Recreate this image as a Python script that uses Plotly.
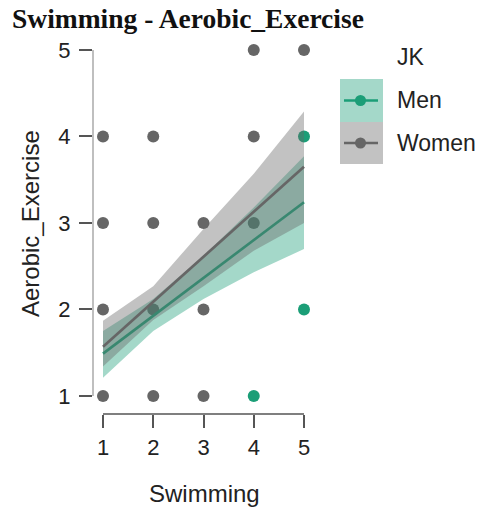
import plotly.graph_objects as go

# ---- data ----
swim_women = [1, 1, 1, 1, 2, 2, 2, 2, 3, 3, 3, 4, 4, 4, 5]
aer_women = [1, 2, 3, 4, 1, 2, 3, 4, 1, 2, 3, 3, 4, 5, 5]
swim_men = [4, 5, 5]
aer_men = [1, 2, 4]

x_fit = [1, 2, 3, 4, 5]
women_fit = [1.57, 2.09, 2.61, 3.13, 3.65]
women_lo = [1.34, 1.88, 2.27, 2.68, 3.00]
women_hi = [1.87, 2.27, 2.93, 3.57, 4.29]
men_fit = [1.49, 1.93, 2.37, 2.80, 3.24]
men_lo = [1.21, 1.75, 2.12, 2.43, 2.70]
men_hi = [1.75, 2.12, 2.62, 3.18, 3.77]

tick_vals = [1, 2, 3, 4, 5]
tick_text = ["1", "2", "3", "4", "5"]

GREEN = "#1b9e77"
GRAY = "#666666"
GREEN_FILL = "rgba(27,158,119,0.4)"
GRAY_FILL = "rgba(102,102,102,0.4)"

W, H = 484, 508
L, R, T, B = 93, 314, 42, 414


def px(xp):
    return (xp - L) / (R - L)


def py(yp):
    return (B - yp) / (B - T)


fig = go.Figure()

fig.add_trace(go.Scatter(x=swim_women, y=aer_women, mode="markers",
                         marker=dict(size=12, color=GRAY), showlegend=False))
fig.add_trace(go.Scatter(x=swim_men, y=aer_men, mode="markers",
                         marker=dict(size=12, color=GREEN), showlegend=False))

fig.add_trace(go.Scatter(x=x_fit + x_fit[::-1], y=men_hi + men_lo[::-1],
                         fill="toself", fillcolor=GREEN_FILL, mode="lines",
                         line=dict(width=0), showlegend=False, hoverinfo="skip"))
fig.add_trace(go.Scatter(x=x_fit, y=men_fit, mode="lines",
                         line=dict(color=GREEN, width=2.7), showlegend=False))
fig.add_trace(go.Scatter(x=x_fit + x_fit[::-1], y=women_hi + women_lo[::-1],
                         fill="toself", fillcolor=GRAY_FILL, mode="lines",
                         line=dict(width=0), showlegend=False, hoverinfo="skip"))
fig.add_trace(go.Scatter(x=x_fit, y=women_fit, mode="lines",
                         line=dict(color=GRAY, width=2.7), showlegend=False))

font = "Liberation Sans, Arial, sans-serif"

fig.update_layout(
    width=W, height=H,
    margin=dict(l=L, r=W - R, t=T, b=H - B, pad=0),
    plot_bgcolor="white", paper_bgcolor="white",
    font=dict(family=font, size=22, color="#222222"),
    xaxis=dict(range=[0.801, 5.199], tickvals=tick_vals, ticktext=tick_text,
               ticks="outside", ticklen=13, tickcolor="#555555", tickwidth=1.5,
               showgrid=False, zeroline=False, showline=False,
               ticklabelstandoff=1, tickfont=dict(size=22, color="#222222")),
    yaxis=dict(range=[0.792, 5.092], tickvals=tick_vals, ticktext=tick_text,
               ticks="outside", ticklen=13, tickcolor="#555555", tickwidth=1.5,
               showgrid=False, zeroline=False, showline=False,
               ticklabelstandoff=4, tickfont=dict(size=22, color="#222222")),
)

shapes = []
# axis lines
shapes.append(dict(type="line", xref="x", yref="paper", x0=1, x1=5, y0=0, y1=0,
                   line=dict(color="#555555", width=1.5)))
shapes.append(dict(type="line", xref="paper", yref="y", x0=0, x1=0, y0=1, y1=5,
                   line=dict(color="#aaaaaa", width=1.5)))
# legend swatches
shapes.append(dict(type="rect", xref="paper", yref="paper", x0=px(340), x1=px(383),
                   y0=py(122), y1=py(79), fillcolor="#a4d8c9", line=dict(width=0)))
shapes.append(dict(type="rect", xref="paper", yref="paper", x0=px(340), x1=px(383),
                   y0=py(164), y1=py(122), fillcolor="#c2c2c2", line=dict(width=0)))
shapes.append(dict(type="line", xref="paper", yref="paper", x0=px(344), x1=px(378),
                   y0=py(100.5), y1=py(100.5), line=dict(color=GREEN, width=2.5)))
shapes.append(dict(type="line", xref="paper", yref="paper", x0=px(344), x1=px(378),
                   y0=py(143), y1=py(143), line=dict(color=GRAY, width=2.5)))
shapes.append(dict(type="circle", xref="paper", yref="paper",
                   x0=px(355), x1=px(366), y0=py(106), y1=py(95),
                   fillcolor=GREEN, line=dict(width=0)))
shapes.append(dict(type="circle", xref="paper", yref="paper",
                   x0=px(355), x1=px(366), y0=py(148.5), y1=py(137.5),
                   fillcolor=GRAY, line=dict(width=0)))
fig.update_layout(shapes=shapes)

ann = []
ann.append(dict(text="<b>Swimming - Aerobic_Exercise</b>", xref="paper", yref="paper",
                x=px(10), y=py(18), xanchor="left", yanchor="middle", showarrow=False,
                font=dict(family="Liberation Serif, Times New Roman, serif", size=27.5,
                          color="#111111")))
ann.append(dict(text="Swimming", xref="paper", yref="paper", x=px(204), y=py(493),
                xanchor="center", yanchor="middle", showarrow=False,
                font=dict(size=24, color="#222222")))
ann.append(dict(text="Aerobic_Exercise", xref="paper", yref="paper", x=px(30), y=py(224),
                xanchor="center", yanchor="middle", showarrow=False, textangle=-90,
                font=dict(size=24, color="#222222")))
ann.append(dict(text="JK", xref="paper", yref="paper", x=px(395), y=py(57),
                xanchor="left", yanchor="middle", showarrow=False,
                font=dict(size=23, color="#222222")))
ann.append(dict(text="Men", xref="paper", yref="paper", x=px(395), y=py(100),
                xanchor="left", yanchor="middle", showarrow=False,
                font=dict(size=23, color="#222222")))
ann.append(dict(text="Women", xref="paper", yref="paper", x=px(395), y=py(143),
                xanchor="left", yanchor="middle", showarrow=False,
                font=dict(size=23, color="#222222")))
fig.update_layout(annotations=ann)

fig.write_html("out.html", config={"displayModeBar": False},
               post_script="document.body.style.margin='0';document.body.style.overflow='hidden';")
